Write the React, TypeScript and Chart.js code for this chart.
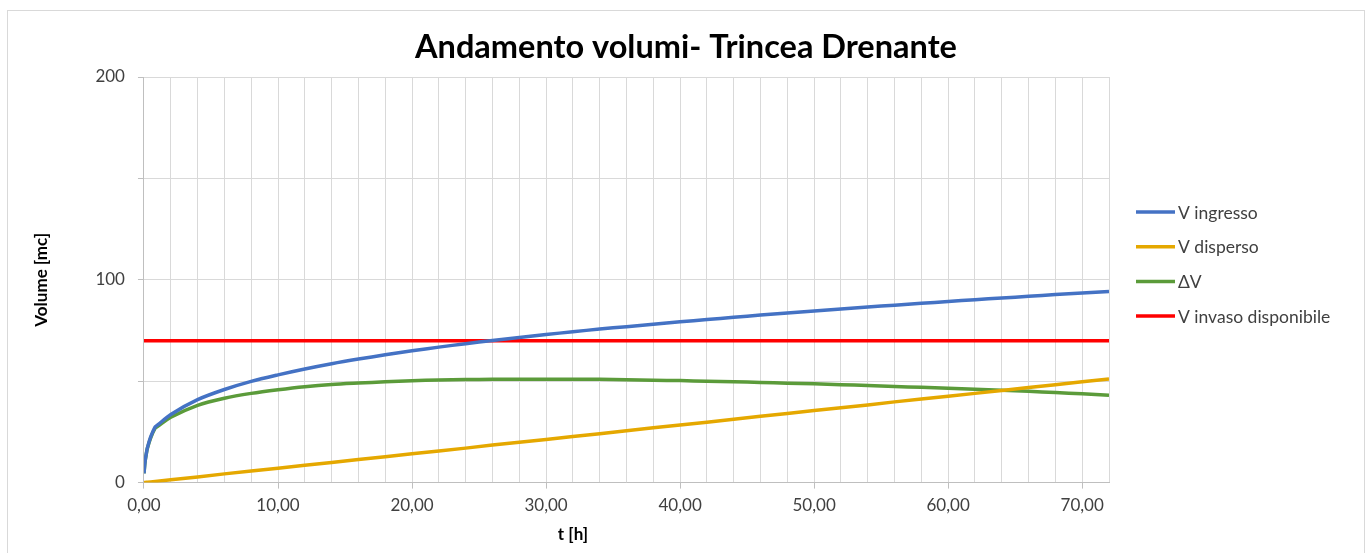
import React, { useEffect, useRef } from "react";
import { Chart, registerables } from "chart.js";

Chart.register(...registerables);

// time [h]
const times = [0, 0.083, 0.167, 0.25, 0.5, 0.833, 1, 2, 4, 6, 8, 10, 12, 14, 16, 18, 20, 22, 24, 26, 28, 30, 32, 34, 36, 38, 40, 42, 44, 46, 48, 50, 52, 54, 56, 58, 60, 62, 64, 66, 68, 70, 72];

const vIngresso = [4.6, 10.5, 14, 17, 22.5, 27.5, 28.3, 33.6, 40.9, 45.9, 49.9, 53.1, 56.0, 58.6, 60.9, 63.0, 65.0, 66.8, 68.5, 70.1, 71.6, 73.0, 74.4, 75.7, 76.9, 78.1, 79.3, 80.4, 81.5, 82.6, 83.6, 84.6, 85.6, 86.6, 87.5, 88.4, 89.3, 90.2, 91.0, 91.9, 92.7, 93.5, 94.2];

const vDisperso = [0, 0.06, 0.12, 0.18, 0.36, 0.59, 0.71, 1.4, 2.8, 4.3, 5.7, 7.1, 8.5, 9.9, 11.4, 12.8, 14.2, 15.6, 17.0, 18.5, 19.9, 21.3, 22.7, 24.1, 25.6, 27.0, 28.4, 29.8, 31.2, 32.7, 34.1, 35.5, 36.9, 38.3, 39.8, 41.2, 42.6, 44.0, 45.4, 46.9, 48.3, 49.7, 51.1];

const deltaV = [4.6, 10.4, 13.9, 16.8, 22.1, 26.9, 27.6, 32.2, 38.1, 41.6, 44.0, 45.8, 47.3, 48.4, 49.1, 49.7, 50.2, 50.6, 50.8, 50.9, 51.0, 51.0, 51.0, 50.9, 50.7, 50.5, 50.3, 50.0, 49.7, 49.4, 49.0, 48.7, 48.3, 47.9, 47.4, 47.0, 46.5, 46.0, 45.5, 45.0, 44.4, 43.8, 43.1];

const invasoTimes = [0, 72];
const vInvaso = [70, 70];

const seriesLabels = ["V ingresso", "V disperso", "\u0394V", "V invaso disponibile"];
const chartTitle = "Andamento volumi- Trincea Drenante";
const xTitle = "t [h]";
const yTitle = "Volume [mc]";

const FONT = "Lato, 'Open Sans', sans-serif";

function pts(xs: number[], ys: number[]) {
  return xs.map((x, i) => ({ x, y: ys[i] }));
}

const decorations = {
  id: "decorations",
  afterDraw(chart: any) {
    const { ctx, chartArea, width } = chart;
    ctx.save();
    // chart title centred on the whole canvas
    ctx.fillStyle = "#000";
    ctx.font = `bold 32.5px ${FONT}`;
    ctx.textAlign = "center";
    ctx.textBaseline = "middle";
    ctx.fillText(chartTitle, width / 2, 37);
    // x axis title (Excel places it left of the plot centre)
    ctx.font = `bold 17px ${FONT}`;
    ctx.fillText(xTitle, chartArea.left + 429, chartArea.bottom + 52);
    ctx.restore();
    // legend on the right
    const x0 = chartArea.right + 27;
    chart.data.datasets.forEach((ds: any, i: number) => {
      const y = chartArea.top + 135 + i * 34.7;
      ctx.save();
      ctx.strokeStyle = ds.borderColor;
      ctx.lineWidth = 3.5;
      ctx.beginPath();
      ctx.moveTo(x0, y);
      ctx.lineTo(x0 + 39, y);
      ctx.stroke();
      ctx.fillStyle = "#404040";
      ctx.font = `17.5px ${FONT}`;
      ctx.textBaseline = "middle";
      ctx.textAlign = "left";
      ctx.fillText(ds.label, x0 + 42, y + 1);
      ctx.restore();
    });
  },
};

export default function App() {
  const ref = useRef<HTMLCanvasElement | null>(null);

  useEffect(() => {
    if (!ref.current) return;
    const chart = new Chart(ref.current, {
      type: "line",
      data: {
        datasets: [
          { label: seriesLabels[0], data: pts(times, vIngresso), borderColor: "#4472C4", backgroundColor: "#4472C4", borderWidth: 3.5, pointRadius: 0, tension: 0.3 },
          { label: seriesLabels[1], data: pts(times, vDisperso), borderColor: "#E5A800", backgroundColor: "#E5A800", borderWidth: 3.5, pointRadius: 0, tension: 0 },
          { label: seriesLabels[2], data: pts(times, deltaV), borderColor: "#5B9B3A", backgroundColor: "#5B9B3A", borderWidth: 3.5, pointRadius: 0, tension: 0.3 },
          { label: seriesLabels[3], data: pts(invasoTimes, vInvaso), borderColor: "#FF0000", backgroundColor: "#FF0000", borderWidth: 3.5, pointRadius: 0 },
        ],
      },
      options: {
        animation: false,
        responsive: true,
        maintainAspectRatio: false,
        layout: { padding: { left: 19, right: 255, top: 66, bottom: 46 } },
        plugins: {
          title: { display: false },
          legend: { display: false },
          tooltip: { enabled: false },
        },
        scales: {
          x: {
            type: "linear",
            min: 0,
            max: 72,
            ticks: {
              stepSize: 2,
              autoSkip: false,
              maxRotation: 0,
              padding: 7,
              color: "#404040",
              font: { family: FONT, size: 17 },
              callback: (v: any) => (Number(v) % 10 === 0 ? Number(v).toFixed(2).replace(".", ",") : ""),
            },
            grid: {
              color: "#d9d9d9",
              tickLength: 6,
              tickColor: (ctx: any) => (ctx.tick && ctx.tick.value % 10 === 0 ? "#bfbfbf" : "rgba(0,0,0,0)"),
            },
            border: { color: "#bfbfbf" },
            title: { display: false },
          },
          y: {
            min: 0,
            max: 200,
            ticks: {
              stepSize: 50,
              padding: 13,
              color: "#404040",
              font: { family: FONT, size: 17 },
              callback: (v: any) => (Number(v) % 100 === 0 ? String(v) : ""),
            },
            grid: { color: "#d9d9d9", tickLength: 6, tickColor: "#bfbfbf" },
            border: { color: "#bfbfbf" },
            title: { display: true, text: yTitle, color: "#000", font: { family: FONT, size: 17, weight: "bold" }, padding: { top: 4, bottom: 31 } },
          },
        },
      },
      plugins: [decorations],
    });
    return () => chart.destroy();
  }, []);

  return (
    <div
      style={{
        position: "absolute",
        left: 7,
        top: 10,
        width: 1358,
        height: 560,
        border: "1px solid #d9d9d9",
        boxSizing: "border-box",
        background: "#fff",
      }}
    >
      <canvas ref={ref} />
    </div>
  );
}
